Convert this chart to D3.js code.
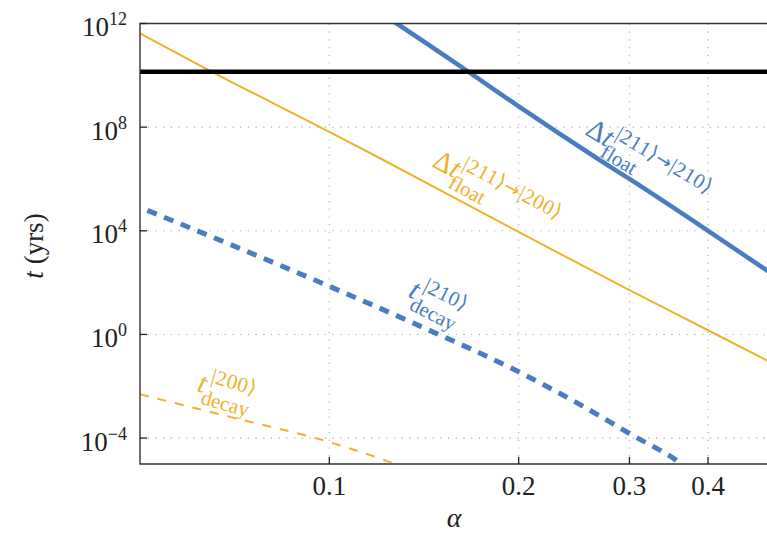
<!DOCTYPE html>
<html>
<head>
<meta charset="utf-8">
<script src="https://cdn.jsdelivr.net/npm/d3@7"></script>
<style>
  body { margin: 0; background: #fff; }
  svg { display: block; font-family: "Liberation Serif", "DejaVu Serif", serif; }
</style>
</head>
<body>
<svg id="chart" width="767" height="534"></svg>
<script>
// values (alpha, t in years)
var floatBlueAlpha = [0.12, 0.128, 0.1655, 0.2, 0.269, 0.3, 0.4, 0.5];
var floatBlueT     = [2.8e12, 1e12, 1.5e10, 6.3e8, 5.4e6, 1e6, 1e4, 2.6e2];

var floatOrangeAlpha = [0.05, 0.0646, 0.1, 0.1204, 0.2, 0.3, 0.4, 0.5];
var floatOrangeT     = [4.2e11, 1.5e10, 6.6e7, 6.3e6, 9e3, 51, 1.45, 0.09];

var decayBlueAlpha = [0.05, 0.07, 0.1, 0.14, 0.2, 0.25, 0.3, 0.363, 0.37];
var decayBlueT     = [8e4, 2.8e3, 72, 2, 0.036, 2e-3, 1.5e-4, 1e-5, 7e-6];

var decayOrangeAlpha = [0.05, 0.07, 0.1, 0.127, 0.13];
var decayOrangeT     = [4.9e-3, 6.3e-4, 7e-5, 1e-5, 8e-6];

var universeAge = 1.38e10;

var xTicks = [0.1, 0.2, 0.3, 0.4];
var xTickLabels = ["0.1", "0.2", "0.3", "0.4"];
var yTickExp = [-4, 0, 4, 8, 12];
var yTickLabels = ["\u22124", "0", "4", "8", "12"];

var blue = "#4a7cc0", orange = "#f0b229";

var svg = d3.select("#chart");
// note: "top" is taken by window.top, so the plot box uses its own names
var plotL = 140, plotT = 23.5, plotR = 769, plotB = 464;

var x = d3.scaleLog().domain([0.05, 0.5]).range([plotL, plotR]);
var y = d3.scaleLog().domain([1e-5, 1e12]).range([plotB, plotT]);

svg.append("defs").append("clipPath").attr("id", "plotclip")
  .append("rect").attr("x", plotL).attr("y", plotT)
  .attr("width", plotR - plotL).attr("height", plotB - plotT);

// grid
var grid = svg.append("g").attr("stroke", "#aaa").attr("stroke-width", 1.1)
  .attr("stroke-dasharray", "1.2,6.5");
grid.selectAll(".gx").data(xTicks).enter().append("line")
  .attr("x1", function(d) { return x(d); }).attr("x2", function(d) { return x(d); })
  .attr("y1", plotB).attr("y2", plotT);
grid.selectAll(".gy").data(yTickExp.slice(0, 4)).enter().append("line")
  .attr("y1", function(d) { return y(Math.pow(10, d)); })
  .attr("y2", function(d) { return y(Math.pow(10, d)); })
  .attr("x1", plotL).attr("x2", plotR);

// curves
var plot = svg.append("g").attr("clip-path", "url(#plotclip)");
var line = d3.line()
  .x(function(d) { return x(d[0]); })
  .y(function(d) { return y(d[1]); })
  .curve(d3.curveMonotoneX);

function series(a, t) { return a.map(function(v, i) { return [v, t[i]]; }); }

plot.append("path").datum(series(decayOrangeAlpha, decayOrangeT))
  .attr("d", line).attr("fill", "none").attr("stroke", orange)
  .attr("stroke-width", 2).attr("stroke-dasharray", "9,9");

plot.append("path").datum(series(decayBlueAlpha, decayBlueT))
  .attr("d", line).attr("fill", "none").attr("stroke", blue)
  .attr("stroke-width", 5).attr("stroke-dasharray", "10,8").attr("stroke-dashoffset", -8);

plot.append("path").datum(series(floatOrangeAlpha, floatOrangeT))
  .attr("d", line).attr("fill", "none").attr("stroke", orange)
  .attr("stroke-width", 2);

plot.append("path").datum(series(floatBlueAlpha, floatBlueT))
  .attr("d", line).attr("fill", "none").attr("stroke", blue)
  .attr("stroke-width", 4.5);

plot.append("line")
  .attr("x1", plotL).attr("x2", plotR)
  .attr("y1", y(universeAge)).attr("y2", y(universeAge))
  .attr("stroke", "#000").attr("stroke-width", 4.5);

// frame (right side falls outside the picture)
svg.append("path")
  .attr("d", "M" + plotR + "," + plotT + "H" + plotL + "V" + plotB + "H" + plotR)
  .attr("fill", "none").attr("stroke", "#333").attr("stroke-width", 1.4);

// ticks
var ticks = svg.append("g").attr("stroke", "#222").attr("stroke-width", 1.3);
ticks.selectAll(".tx").data(xTicks).enter().append("line")
  .attr("x1", function(d) { return x(d); }).attr("x2", function(d) { return x(d); })
  .attr("y1", plotB).attr("y2", plotB - 7);
ticks.selectAll(".ty").data(yTickExp).enter().append("line")
  .attr("y1", function(d) { return y(Math.pow(10, d)); })
  .attr("y2", function(d) { return y(Math.pow(10, d)); })
  .attr("x1", plotL).attr("x2", plotL + 7);

// tick labels
svg.selectAll(".xl").data(xTicks).enter().append("text")
  .attr("x", function(d) { return x(d); }).attr("y", 495)
  .attr("text-anchor", "middle").attr("font-size", 27).attr("fill", "#222")
  .text(function(d, i) { return xTickLabels[i]; });

var yl = svg.selectAll(".yl").data(yTickExp).enter().append("text")
  .attr("x", 127).attr("y", function(d) { return y(Math.pow(10, d)) + 12.5; })
  .attr("text-anchor", "end").attr("font-size", 27).attr("fill", "#222");
yl.append("tspan").text("10");
yl.append("tspan").attr("dy", -11).attr("font-size", 18)
  .text(function(d, i) { return yTickLabels[i]; });

// axis titles
svg.append("text").attr("x", 454).attr("y", 527).attr("text-anchor", "middle")
  .attr("font-size", 28).attr("font-style", "italic").attr("fill", "#222").text("\u03b1");

var yt = svg.append("text").attr("transform", "translate(43,246) rotate(-90)")
  .attr("text-anchor", "middle").attr("font-size", 27).attr("fill", "#222");
yt.append("tspan").attr("font-style", "italic").text("t");
yt.append("tspan").text(" (yrs)");

// curve labels
function curveLabel(opt) {
  var g = svg.append("g")
    .attr("transform", "translate(" + opt.x + "," + opt.y + ") rotate(" + opt.angle + ")")
    .attr("fill", opt.color);
  var main = g.append("text").attr("font-size", 29);
  if (opt.delta) main.append("tspan").text("\u0394");
  main.append("tspan").attr("font-style", "italic").text("t");
  var w = opt.delta ? 27 : 10;
  var sup = g.append("text").attr("x", w + 1).attr("y", -12).attr("font-size", 21)
    .attr("letter-spacing", 0.6);
  // brackets and arrow come from DejaVu, the serif face has none
  opt.sup.split(/([\u27e9\u2192])/).forEach(function(part) {
    if (!part) return;
    var ts = sup.append("tspan").text(part);
    if (part === "\u27e9" || part === "\u2192")
      ts.attr("font-family", "DejaVu Sans").attr("font-size", part === "\u2192" ? 19 : 21);
  });
  g.append("text").attr("x", w - 3).attr("y", 11).attr("font-size", 21).text(opt.sub);
}

curveLabel({x: 584, y: 134, angle: 31, color: blue, delta: true,
  sup: "|211\u27e9\u2192|210\u27e9", sub: "float"});
curveLabel({x: 431, y: 166, angle: 28, color: orange, delta: true,
  sup: "|211\u27e9\u2192|200\u27e9", sub: "float"});
curveLabel({x: 407, y: 296, angle: 27, color: blue, delta: false,
  sup: "|210\u27e9", sub: "decay"});
curveLabel({x: 196, y: 391, angle: 16, color: orange, delta: false,
  sup: "|200\u27e9", sub: "decay"});
</script>
</body>
</html>
